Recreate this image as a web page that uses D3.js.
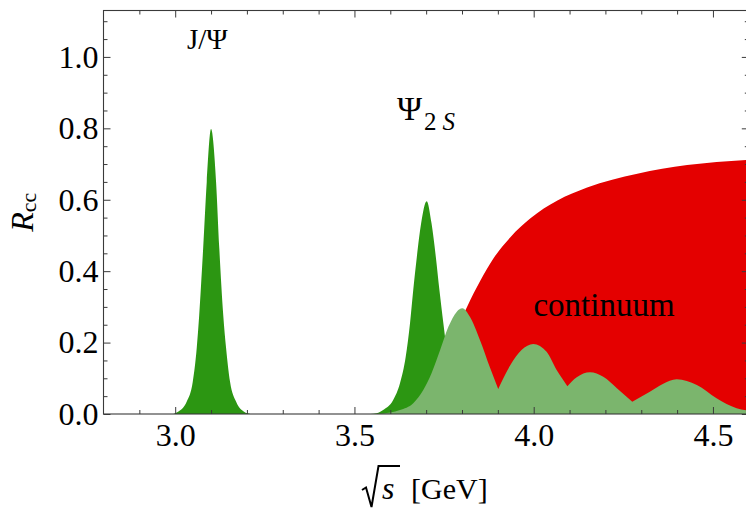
<!DOCTYPE html>
<html><head><meta charset="utf-8">
<script src="https://cdn.jsdelivr.net/npm/d3@7"></script>
<style>
body{margin:0;background:#fff}
svg{display:block}
text{font-family:"Liberation Serif","Times New Roman",serif;fill:#000}
</style>
</head><body>
<svg id="c" width="746" height="509"></svg>
<script>
// ---- data ----
const jpsiX = [2.995, 3.008, 3.032, 3.049, 3.060, 3.067, 3.078, 3.088, 3.100, 3.114, 3.123, 3.134, 3.142, 3.153, 3.170, 3.192, 3.210];
const jpsiY = [0.000, 0.006, 0.034, 0.090, 0.184, 0.277, 0.464, 0.650, 0.798, 0.650, 0.464, 0.277, 0.184, 0.090, 0.034, 0.006, 0.000];

const psi2sX = [3.545, 3.562, 3.580, 3.608, 3.627, 3.643, 3.655, 3.664, 3.674, 3.686, 3.7015, 3.715, 3.727, 3.737, 3.748, 3.760, 3.775, 3.795, 3.820, 3.840];
const psi2sY = [0.000, 0.002, 0.011, 0.039, 0.086, 0.160, 0.254, 0.347, 0.440, 0.534, 0.596, 0.534, 0.440, 0.347, 0.254, 0.160, 0.086, 0.039, 0.011, 0.000];

const contX = [3.730, 3.750, 3.780, 3.814, 3.851, 3.888, 3.935, 3.991, 4.065, 4.149, 4.289, 4.428, 4.600];
const contY = [0.000, 0.140, 0.225, 0.300, 0.373, 0.436, 0.495, 0.548, 0.597, 0.634, 0.673, 0.697, 0.712];

const oscX = [3.560, 3.600, 3.627, 3.664, 3.692, 3.715, 3.739, 3.762, 3.785, 3.801, 3.822, 3.850, 3.878, 3.901, 3.935, 3.966, 3.999, 4.036, 4.064, 4.094, 4.120, 4.157, 4.194, 4.232, 4.275, 4.324, 4.360, 4.399, 4.455, 4.510, 4.566, 4.600];
const oscY = [0.000, 0.004, 0.011, 0.030, 0.067, 0.114, 0.179, 0.244, 0.286, 0.296, 0.272, 0.207, 0.130, 0.070, 0.137, 0.179, 0.196, 0.174, 0.123, 0.078, 0.103, 0.117, 0.104, 0.072, 0.034, 0.062, 0.084, 0.097, 0.081, 0.044, 0.016, 0.009];

const xMajor = [3.0, 3.5, 4.0, 4.5];
const xMinor = [2.9, 3.1, 3.2, 3.3, 3.4, 3.6, 3.7, 3.8, 3.9, 4.1, 4.2, 4.3, 4.4];
const yMajor = [0.0, 0.2, 0.4, 0.6, 0.8, 1.0];
const yMinor = [0.05, 0.1, 0.15, 0.25, 0.3, 0.35, 0.45, 0.5, 0.55, 0.65, 0.7, 0.75, 0.85, 0.9, 0.95, 1.05, 1.1];

// ---- layout ----
const svg = d3.select("#c");
const L = 103.5, R = 748.8, T = 10.5, B = 414;
const x = d3.scaleLinear().domain([2.8, 4.6]).range([L, R]);
const y = d3.scaleLinear().domain([0, 1.13]).range([B, T]);

svg.append("defs").append("clipPath").attr("id", "clip")
  .append("rect").attr("x", L).attr("y", T).attr("width", R - L).attr("height", B - T);

const plot = svg.append("g").attr("clip-path", "url(#clip)");
const zip = (a, b) => a.map((v, i) => [v, b[i]]);
const area = d3.area().x(d => x(d[0])).y0(y(0)).y1(d => y(d[1])).curve(d3.curveMonotoneX);
const line = d3.line().x(d => x(d[0])).y(d => y(d[1])).curve(d3.curveMonotoneX);

const RED = "#e40000", DG = "#2c9612", LG = "#7bb56d";
plot.append("path").attr("d", area(zip(contX, contY))).attr("fill", RED);
plot.append("path").attr("d", area(zip(jpsiX, jpsiY))).attr("fill", DG);
plot.append("path").attr("d", area(zip(psi2sX, psi2sY))).attr("fill", DG);

// light-green oscillation: one path, made of smooth arches joined at cusps (local minima)
const osc = zip(oscX, oscY);
const segs = [];
let seg = [osc[0]];
for (let i = 1; i < osc.length; i++) {
  seg.push(osc[i]);
  const isMin = i < osc.length - 1 && osc[i][1] < osc[i - 1][1] && osc[i][1] < osc[i + 1][1];
  if (isMin) { segs.push(seg); seg = [osc[i]]; }
}
segs.push(seg);
let d = "";
segs.forEach((s, k) => {
  const p = line(s);
  d += k === 0 ? p : "L" + p.slice(1);
});
d += `L${x(oscX[oscX.length - 1])},${y(0)}L${x(oscX[0])},${y(0)}Z`;
plot.append("path").attr("d", d).attr("fill", LG);

// ---- axes ----
const FC = "#3a3a3a";
const TF = 32;
function style(g, labels) {
  g.select(".domain").remove();
  g.selectAll("line").attr("stroke", FC);
  g.selectAll("text").style("font-family", '"Liberation Serif","Times New Roman",serif')
    .style("font-size", labels ? TF + "px" : "0px");
  g.attr("font-family", null).attr("font-size", null);
}
const gl = svg.append("g").attr("transform", `translate(${L},0)`);
gl.call(d3.axisLeft(y).tickValues(yMajor).tickSize(-7).tickPadding(5).tickFormat(d3.format(".1f")));
style(gl, true);
const glm = svg.append("g").attr("transform", `translate(${L},0)`);
glm.call(d3.axisLeft(y).tickValues(yMinor).tickSize(-4).tickFormat(""));
style(glm, false);
const gr = svg.append("g").attr("transform", `translate(${R},0)`);
gr.call(d3.axisRight(y).tickValues(yMajor).tickSize(-7).tickFormat(""));
style(gr, false);
const grm = svg.append("g").attr("transform", `translate(${R},0)`);
grm.call(d3.axisRight(y).tickValues(yMinor).tickSize(-4).tickFormat(""));
style(grm, false);

const gb = svg.append("g").attr("transform", `translate(0,${B})`);
gb.call(d3.axisBottom(x).tickValues(xMajor).tickSize(-7).tickPadding(9).tickFormat(d3.format(".1f")));
style(gb, true);
const gbm = svg.append("g").attr("transform", `translate(0,${B})`);
gbm.call(d3.axisBottom(x).tickValues(xMinor).tickSize(-4).tickFormat(""));
style(gbm, false);
const gt = svg.append("g").attr("transform", `translate(0,${T})`);
gt.call(d3.axisTop(x).tickValues(xMajor).tickSize(-7).tickFormat(""));
style(gt, false);
const gtm = svg.append("g").attr("transform", `translate(0,${T})`);
gtm.call(d3.axisTop(x).tickValues(xMinor).tickSize(-4).tickFormat(""));
style(gtm, false);

svg.append("rect").attr("x", L).attr("y", T).attr("width", R - L).attr("height", B - T)
  .attr("fill", "none").attr("stroke", FC).attr("stroke-width", 1.1);

// ---- labels ----
const yl = svg.append("text").attr("transform", `translate(33,${(T + B) / 2}) rotate(-90)`)
  .attr("text-anchor", "middle").style("font-size", "32px");
yl.append("tspan").style("font-style", "italic").text("R");
yl.append("tspan").style("font-size", "22px").attr("dy", 3).text("cc");

// x label: radical + s + [GeV]
const xl = svg.append("g");
xl.append("path").attr("d", "M362,490 L366,487.5 L371.5,507 L378.5,466 L400,466")
  .attr("fill", "none").attr("stroke", "#000").attr("stroke-width", 2).attr("stroke-linejoin", "miter");
xl.append("text").attr("x", 382).attr("y", 499).style("font-size", "32px").style("font-style", "italic").text("s");
xl.append("text").attr("x", 411).attr("y", 499).style("font-size", "30px").text("[GeV]");

svg.append("text").attr("x", 187).attr("y", 49).style("font-size", "29px").text("J/Ψ");
const p2 = svg.append("text").attr("x", 397).attr("y", 120).style("font-size", "34px");
p2.append("tspan").text("Ψ");
p2.append("tspan").style("font-size", "25px").attr("dy", 10).attr("dx", 2).text("2");
p2.append("tspan").style("font-size", "25px").style("font-style", "italic").attr("dx", 6).text("S");

svg.append("text").attr("x", 604).attr("y", 316).attr("text-anchor", "middle").style("font-size", "33px").text("continuum");
</script>
</body></html>
